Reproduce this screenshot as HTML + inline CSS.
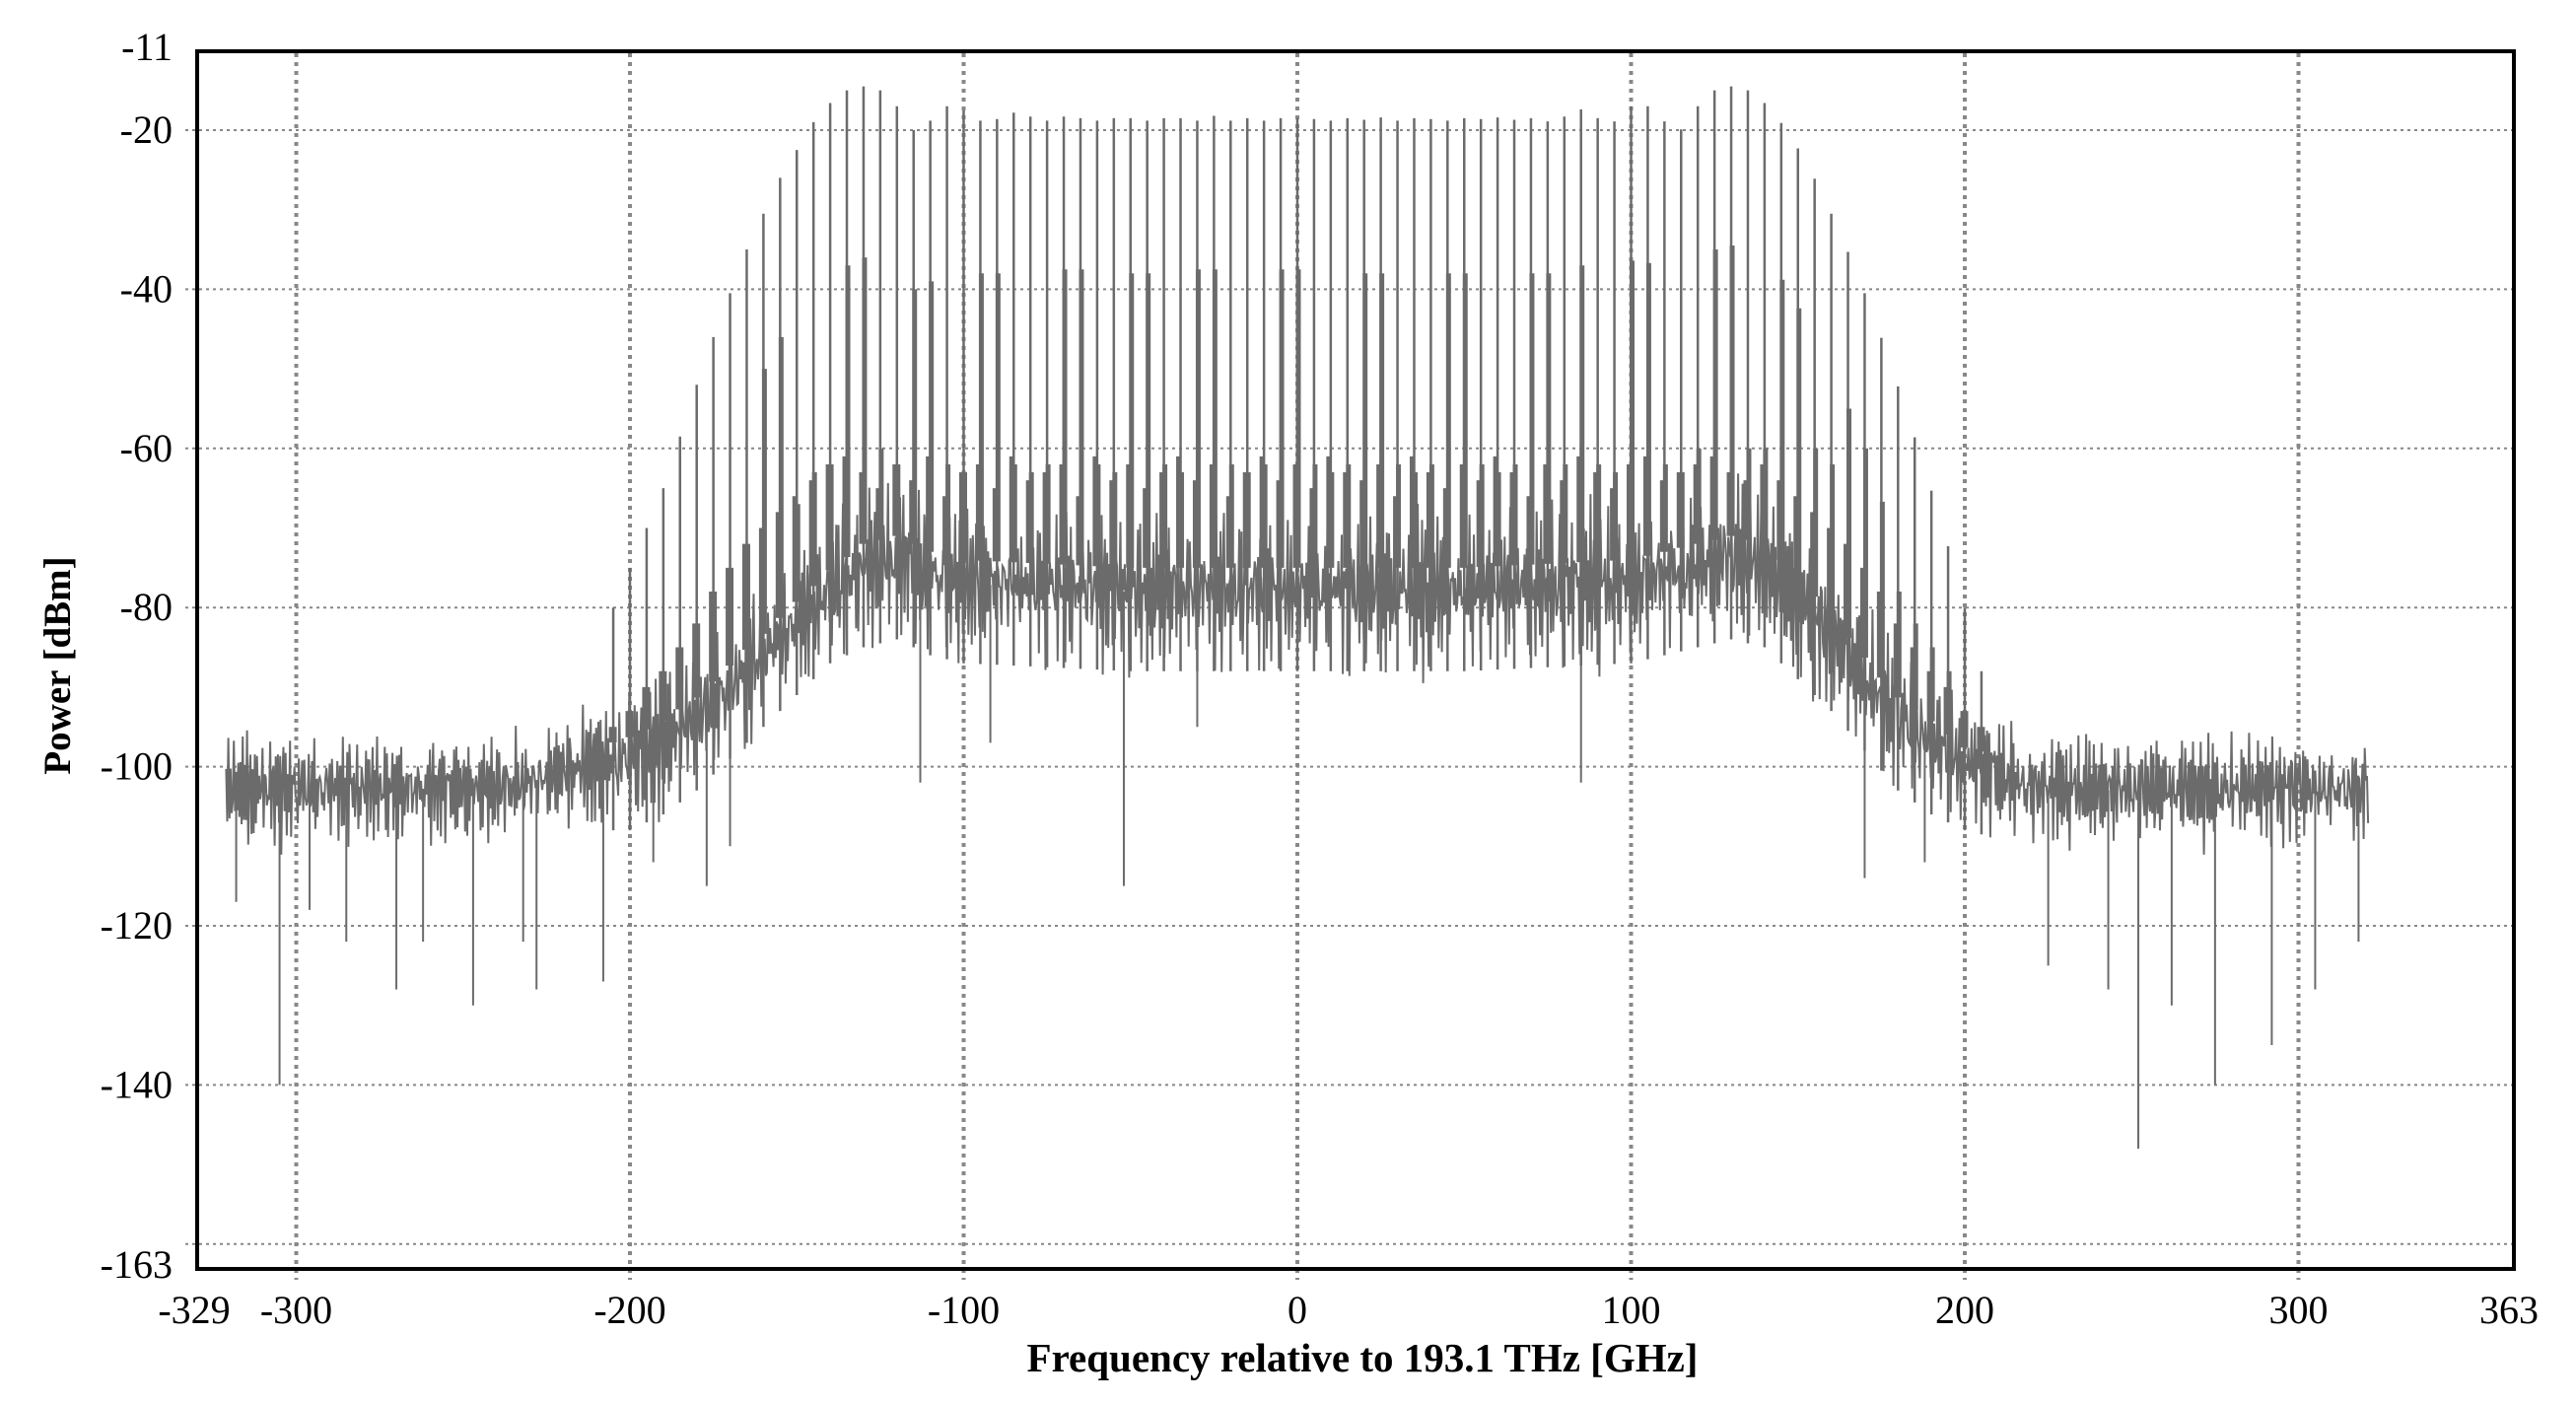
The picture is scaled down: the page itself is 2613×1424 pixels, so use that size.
<!DOCTYPE html>
<html><head><meta charset="utf-8">
<style>
html,body{margin:0;padding:0;background:#fff;}
svg{display:block;}
text{font-family:"Liberation Serif",serif;fill:#000;}
</style></head>
<body>
<svg id="chart" width="2613" height="1424" viewBox="0 0 2613 1424" xmlns="http://www.w3.org/2000/svg">
<g id="grid"></g>
<g id="trace"></g>
<rect x="200" y="52" width="2350" height="1235" fill="none" stroke="#000" stroke-width="4"/>
<g id="labels"></g>
<text x="1382" y="1391" font-size="41" font-weight="bold" text-anchor="middle">Frequency relative to 193.1 THz [GHz]</text>
<text x="0" y="0" font-size="39" font-weight="bold" text-anchor="middle" transform="translate(71,675) rotate(-90)">Power [dBm]</text>
</svg>
<script>
const xTicks=[-300,-200,-100,0,100,200,300];
const yTicks=[-20,-40,-60,-80,-100,-120,-140];
const yGridOnly=[-160];
const xEdgeLabels=[-329,363];
const yEdgeLabels=[-11,-163];
const combFreq=[-205,-200,-195,-190,-185,-180,-175,-170,-165,-160,-155,-150,-145,-140,-135,-130,-125,-120,-115,-110,-105,-100,-95,-90,-85,-80,-75,-70,-65,-60,-55,-50,-45,-40,-35,-30,-25,-20,-15,-10,-5,0,5,10,15,20,25,30,35,40,45,50,55,60,65,70,75,80,85,90,95,100,105,110,115,120,125,130,135,140,145,150,155,160,165,170,175,180,185,190,195,200,205];
const combPeak=[-80,-75,-70,-65,-58.5,-52,-46,-40.5,-35,-30.5,-26,-22.5,-19,-16.6,-15,-14.5,-15,-17,-20,-18.8,-17,-17.5,-18.8,-18.6,-17.8,-18.3,-18.8,-18.3,-18.5,-18.8,-18.5,-18.5,-18.8,-18.5,-18.5,-18.8,-18.2,-18.8,-18.5,-18.8,-18.5,-18.5,-18.6,-18.8,-18.5,-18.7,-18.4,-18.8,-18.5,-18.6,-18.8,-18.5,-18.6,-18.4,-18.7,-18.5,-18.9,-18.3,-17.4,-18.5,-18.9,-17,-17,-18.9,-19.9,-17,-15,-14.5,-15,-16.6,-19.1,-22.3,-26.1,-30.5,-35.3,-40.5,-46.1,-52.2,-58.6,-65.3,-72.3,-80,-88];
const combShoulder=[-95,-93,-90,-88,-85,-82,-78,-75,-72,-50,-46,-67,-63,-62,-37,-36,-60,-62,-40,-39,-62,-63,-38,-38,-62,-63,-62,-37.5,-37.5,-62,-63,-38,-38,-62,-63,-37.5,-37.5,-62,-63,-62,-37.5,-37.5,-62,-63,-62,-38,-38,-62,-63,-62,-38,-38,-62,-63,-62,-38,-38,-62,-37,-62,-63,-36.4,-36.7,-62,-63,-60,-35,-34.5,-60,-60,-38.8,-42.4,-60,-62,-55,-60,-66.7,-78,-82,-85,-88,-93,-95];
const combBump=[-95,-93,-90,-88,-85,-82,-78,-75,-72,-70,-68,-66,-64,-62,-61,-63,-65,-62,-64,-61,-66,-63,-62,-65,-61,-64,-63,-62,-66,-61,-64,-62,-65,-63,-61,-64,-62,-66,-63,-61,-64,-62,-65,-61,-63,-64,-62,-66,-61,-63,-65,-62,-64,-61,-63,-66,-62,-64,-61,-63,-65,-62,-61,-64,-63,-62,-61,-63,-64,-62,-64,-66,-68,-70,-72,-75,-78,-82,-85,-88,-90,-93,-95];
const floorFreq=[-330,-240,-230,-220,-210,-200,-190,-180,-170,-160,-150,-140,-130,-120,-110,-100,-50,0,50,100,120,130,140,150,160,170,180,190,200,210,220,330];
const floorCenter=[-103,-103,-102,-101,-100,-99,-97,-94,-90,-86,-82,-78,-75,-74,-76,-77,-78,-78,-78,-77,-75,-74,-75,-79,-84,-89,-94,-97,-100,-101,-103,-103];
const floorHalf=[7,7,7,7,8,9,9,9,9,9,9,9,10,10,10,10,10,10,10,10,10,10,10,10,9,9,9,9,8,8,7,7];
const jitterA=[0.3,-0.6,0.9,-0.2,0.5,-0.9,0.1,0.7,-0.4,0.8,-0.7,0.2,-0.1,0.6,-0.8,1.0,-0.3,0.4,-0.5,0.9,-1.0,0.3,0.6,-0.6,0.1,-0.9,0.8,-0.2,0.5,-0.4,0.7,-0.8,0.2,0.9,-0.5,-0.1,0.6,-0.7,0.4,-0.3,1.0,-0.6,0.0,0.7,-0.9,0.3,-0.2,0.8,-0.5,0.5,-1.0,0.2,0.6,-0.4,0.9,-0.7,0.1,-0.3,0.7,-0.8,0.4,-0.1,0.8,-0.6,0.3,-0.9,0.5,0.0,-0.5,0.9,-0.2,0.6,-0.7,0.2,-0.4,1.0,-0.8,0.1,0.5,-0.3,0.7,-0.6,0.3,-1.0,0.8,-0.1,0.4,-0.5,0.6,-0.9,0.2,0.9,-0.4,-0.2,0.5,-0.7,0.3];
const jitterB=[0.4,-0.3,0.7,-0.8,0.1,0.5,-0.6,0.9,-0.2,-0.5,0.3,0.8,-0.9,0.2,-0.1,0.6,-0.7,0.4,-0.4,1.0,-0.6,0.0,0.5,-0.8,0.7,-0.3,0.2,-1.0,0.6,0.1,-0.5,0.9,-0.2,0.3,-0.7,0.8,-0.4,0.5,-0.9,0.1,0.4,-0.6,0.7,-0.1,-0.8,0.9,-0.3,0.2,-0.5,0.6,-1.0,0.3,0.8,-0.2,0.1,-0.7,0.5,-0.4,0.9,-0.6,0.0];
const dipFreq=[-318,-305,-296,-285,-270,-262,-247,-232,-228,-208,-193,-177,-170,-113,-92,-52,-30,85,170,188,225,243,252,262,275,292,305,318];
const dipValue=[-117,-140,-118,-122,-128,-122,-130,-122,-128,-127,-112,-115,-110,-102,-97,-115,-95,-102,-114,-112,-125,-128,-148,-130,-140,-135,-128,-122];
const traceStart=-321, traceEnd=321;

const NS='http://www.w3.org/2000/svg';
function xs(f){return 1316+f*3.385;}
function ys(d){return 132+(-20-d)*8.07;}
function interp(arr,f){
  for(let i=0;i<floorFreq.length-1;i++){
    if(f>=floorFreq[i]&&f<=floorFreq[i+1]){const t=(f-floorFreq[i])/(floorFreq[i+1]-floorFreq[i]);return arr[i]+(arr[i+1]-arr[i])*t;}
  }
  return arr[arr.length-1];
}
function mk(tag,attrs,parent){const e=document.createElementNS(NS,tag);for(const k in attrs)e.setAttribute(k,attrs[k]);parent.appendChild(e);return e;}
const grid=document.getElementById('grid');
const labels=document.getElementById('labels');
yTicks.concat(yGridOnly).forEach(v=>{
  const l=mk('line',{x1:188,x2:2550,y1:ys(v),y2:ys(v),stroke:'#888','stroke-width':2,'stroke-dasharray':'3 4'},grid);
  
  
});
yTicks.forEach(v=>{
  const t=mk('text',{x:175,y:ys(v)+13,'font-size':40,'text-anchor':'end'},labels);
  t.textContent=v;
  
  
});
xTicks.forEach(v=>{
  const l=mk('line',{x1:xs(v),x2:xs(v),y1:54,y2:1298,stroke:'#888','stroke-width':4,'stroke-dasharray':'4 5'},grid);
  
  
  const t=mk('text',{x:xs(v),y:1342,'font-size':40,'text-anchor':'middle'},labels);
  t.textContent=v;
  
  
});
[[xEdgeLabels[0],197],[xEdgeLabels[1],2545]].forEach(p=>{
  const t=mk('text',{x:p[1],y:1342,'font-size':40,'text-anchor':'middle'},labels);
  t.textContent=p[0];
  
  
});
[[yEdgeLabels[0],61],[yEdgeLabels[1],1296]].forEach(p=>{
  const t=mk('text',{x:175,y:p[1],'font-size':40,'text-anchor':'end'},labels);
  t.textContent=p[0];
  
  
});
const trace=document.getElementById('trace');
let pts=[];let i=0;
for(let f=traceStart;f<=traceEnd;f+=0.33,i++){
  const v=interp(floorCenter,f)+interp(floorHalf,f)*(0.7*jitterA[i%jitterA.length]+0.45*jitterB[i%jitterB.length]);
  pts.push(xs(f).toFixed(1)+','+ys(v).toFixed(1));
}
const pl=mk('polyline',{points:pts.join(' '),fill:'none',stroke:'#6b6b6b','stroke-width':2},trace);


dipFreq.forEach((f,k)=>{
  const l=mk('line',{x1:xs(f),x2:xs(f),y1:ys(interp(floorCenter,f)),y2:ys(dipValue[k]),stroke:'#6b6b6b','stroke-width':2},trace);
  
  
});
combFreq.forEach((f,k)=>{
  const c=interp(floorCenter,f), h=interp(floorHalf,f);
  const base=ys(c+h*0.3);
  const b=mk('line',{x1:xs(f)-2,x2:xs(f)-2,y1:base,y2:ys(combBump[k]),stroke:'#6b6b6b','stroke-width':5},trace);
  
  
  const s=mk('line',{x1:xs(f)+1,x2:xs(f)+1,y1:base,y2:ys(combShoulder[k]),stroke:'#6b6b6b','stroke-width':5},trace);
  
  
  const l=mk('line',{x1:xs(f),x2:xs(f),y1:ys(c-h),y2:ys(combPeak[k]),stroke:'#6b6b6b','stroke-width':2.5},trace);
  
  
});
</script>
</body></html>
